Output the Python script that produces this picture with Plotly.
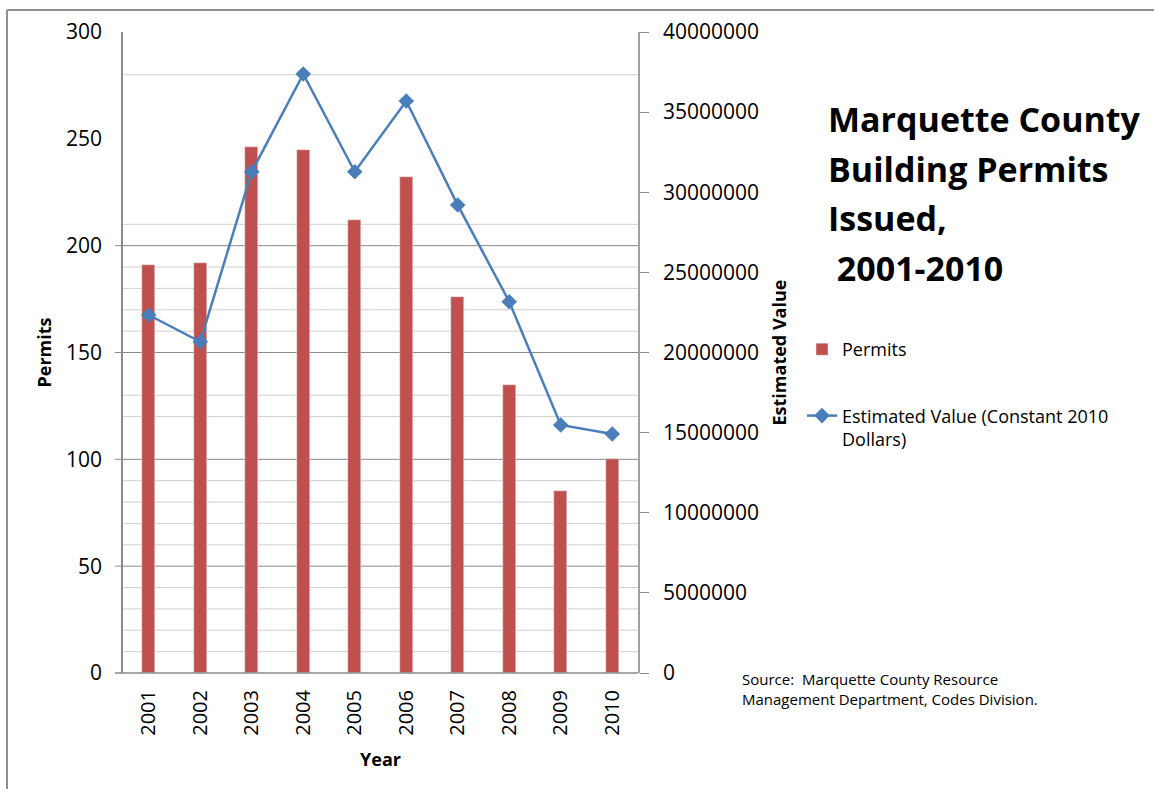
import plotly.graph_objects as go

years = ["2001", "2002", "2003", "2004", "2005", "2006", "2007", "2008", "2009", "2010"]
permits = [191, 192, 246, 245, 212, 232, 176, 135, 85, 100]
est_value = [22340000, 20670000, 31280000, 37380000, 31280000, 35690000, 29200000, 23170000, 15480000, 14910000]

left_ticks = [0, 50, 100, 150, 200, 250, 300]
right_ticks = [0, 5000000, 10000000, 15000000, 20000000, 25000000, 30000000, 35000000, 40000000]

FONT = "'Open Sans', 'Noto Sans', sans-serif"
BAR_COLOR = "#C0504D"
LINE_COLOR = "#4A7EBB"

fig = go.Figure()
fig.add_trace(go.Bar(
    x=years, y=permits, name="Permits", marker_color=BAR_COLOR,
    width=0.26, yaxis="y", legendgroup="a",
))
fig.add_trace(go.Scatter(
    x=years, y=est_value, name="Estimated Value (Constant 2010<br>Dollars)",
    mode="lines+markers", yaxis="y2", legendgroup="b",
    line=dict(color=LINE_COLOR, width=2.5),
    marker=dict(symbol="diamond", size=12, color=LINE_COLOR),
))

shapes = []
minor_vals = [10, 20, 30, 40, 60, 70, 80, 90, 120, 130, 160, 170, 180, 190, 210, 280]
major_vals = [50, 100, 150, 200]
for v in minor_vals:
    shapes.append(dict(type="line", xref="paper", yref="y", x0=0, x1=1, y0=v, y1=v,
                       line=dict(color="#d0d0d0", width=1), layer="below"))
for v in major_vals:
    shapes.append(dict(type="line", xref="paper", yref="y", x0=-8 / 515, x1=1, y0=v, y1=v,
                       line=dict(color="#8a8a8a", width=1), layer="below"))
# outer frame (top and left)
shapes.append(dict(type="line", xref="paper", yref="paper", x0=-116 / 515, x1=1031 / 515,
                   y0=663 / 641, y1=663 / 641, line=dict(color="#8f8f8f", width=2)))
shapes.append(dict(type="line", xref="paper", yref="paper", x0=-116 / 515, x1=-116 / 515,
                   y0=663 / 641, y1=-116 / 641, line=dict(color="#8f8f8f", width=2)))
# bottom axis line extending to the left tick
shapes.append(dict(type="line", xref="paper", yref="paper", x0=-8 / 515, x1=1, y0=0, y1=0,
                   line=dict(color="#8a8a8a", width=1.5)))

title_lines = ["Marquette County", "Building Permits", "Issued,", "&nbsp;2001-2010"]
title_y = [119, 169, 218, 268]
annotations = []
for t, yp in zip(title_lines, title_y):
    annotations.append(dict(text="<b>" + t + "</b>", xref="paper", yref="paper",
                            x=(826 - 123) / 515, y=(673 - yp) / 641, xanchor="left", yanchor="middle",
                            showarrow=False, font=dict(family=FONT, size=34, color="#000")))
annotations.append(dict(text="Source:  Marquette County Resource<br>Management Department, Codes Division.",
                        xref="paper", yref="paper", x=(740 - 123) / 515, y=(673 - 667) / 641,
                        xanchor="left", yanchor="top", align="left", showarrow=False,
                        font=dict(family=FONT, size=15, color="#000")))

fig.update_layout(
    width=1154, height=789,
    margin=dict(l=123, r=516, t=32, b=116),
    paper_bgcolor="white", plot_bgcolor="white",
    font=dict(family=FONT, color="#000"),
    bargap=0,
    showlegend=True,
    legend=dict(x=(802 - 123) / 515, y=(673 - 331) / 641, xanchor="left", yanchor="top",
                font=dict(family=FONT, size=18, color="#000"), tracegroupgap=40,
                valign="top", bgcolor="rgba(0,0,0,0)", itemwidth=30),
    xaxis=dict(
        type="category", range=[-0.5, 9.5], showgrid=False, showline=False, ticks="",
        tickangle=-90, tickfont=dict(size=20, family=FONT),
        ticklabelstandoff=12,
        title=dict(text="<b>Year</b>", font=dict(size=18, family=FONT), standoff=18),
    ),
    yaxis=dict(
        range=[0, 300], tickvals=left_ticks, showgrid=False, zeroline=False,
        showline=True, linecolor="#8a8a8a", linewidth=1.5,
        ticks="", tickfont=dict(size=21, family=FONT),
        ticklabelstandoff=15,
        title=dict(text="<b>Permits</b>", font=dict(size=18, family=FONT), standoff=10),
    ),
    yaxis2=dict(
        range=[0, 40000000], tickvals=right_ticks, overlaying="y", side="right",
        showgrid=False, zeroline=False, showline=True, linecolor="#a0a0a0", linewidth=1.5,
        ticks="outside", ticklen=9, tickcolor="#8a8a8a", tickformat="d",
        tickfont=dict(size=21, family=FONT), ticklabelstandoff=10,
        title=dict(text="<b>Estimated Value</b>", font=dict(size=18, family=FONT), standoff=15),
    ),
    shapes=shapes,
    annotations=annotations,
)

fig.write_html("out.html", config={"displayModeBar": False},
               post_script="document.body.style.margin='0';")
